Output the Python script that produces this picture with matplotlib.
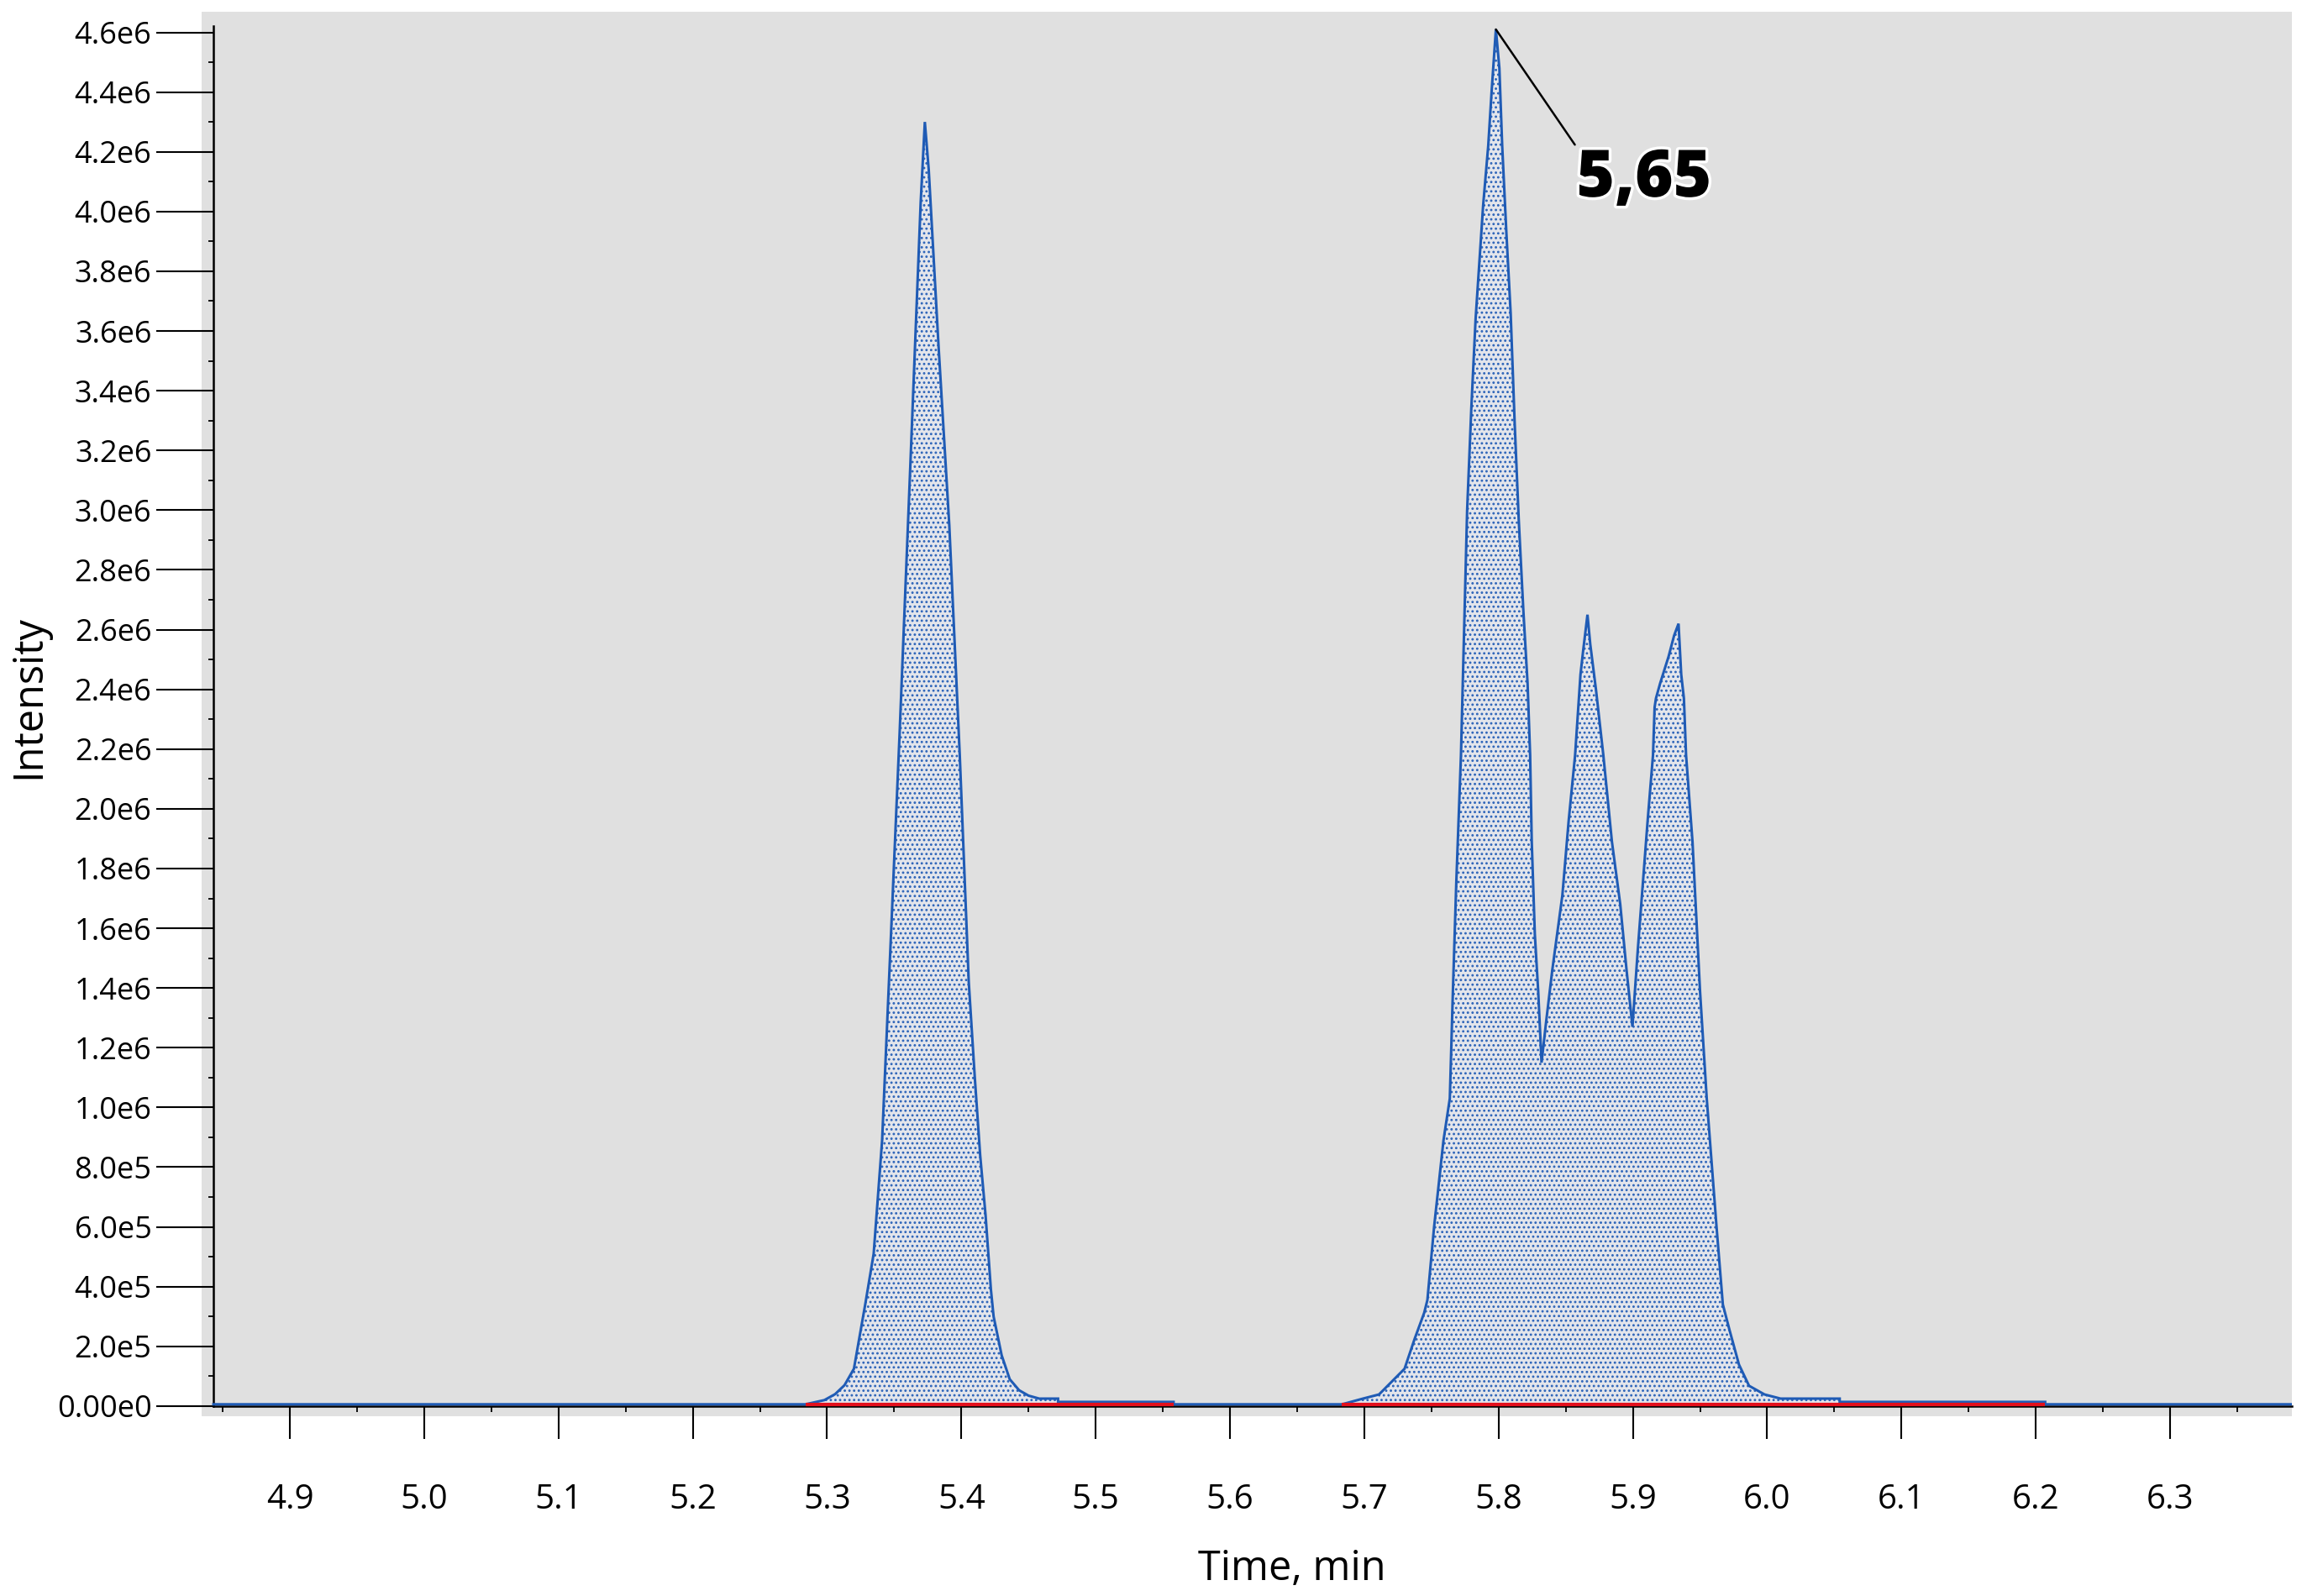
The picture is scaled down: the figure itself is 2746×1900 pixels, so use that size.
import matplotlib
matplotlib.use('Agg')
import matplotlib.pyplot as plt
import matplotlib.patheffects as pe
import numpy as np
from matplotlib.ticker import FixedLocator, MultipleLocator

plt.rcParams['font.family'] = ['Open Sans', 'DejaVu Sans']
plt.rcParams['hatch.color'] = '#2a62b8'
plt.rcParams['hatch.linewidth'] = 1.25

# ---------------- data ----------------
time_min = [
    4.8431, 5.284, 5.298, 5.306, 5.313, 5.320, 5.3284, 5.3347, 5.341, 5.348,
    5.354, 5.362, 5.3697, 5.3728, 5.3757, 5.383, 5.391, 5.3988, 5.4055, 5.410,
    5.414, 5.418, 5.422, 5.424, 5.430, 5.436, 5.443, 5.450, 5.458, 5.472,
    5.472, 5.558, 5.558,
    5.6835, 5.699, 5.711, 5.7205, 5.730, 5.7375, 5.7446, 5.747, 5.752, 5.759,
    5.7637, 5.766, 5.7685, 5.772, 5.7766, 5.7797, 5.7829, 5.7885, 5.7923, 5.7948,
    5.798, 5.8006, 5.8027, 5.8058, 5.809, 5.812, 5.815, 5.8185, 5.8216, 5.8235,
    5.8247, 5.827, 5.8295, 5.832, 5.8355, 5.840, 5.8475, 5.8522, 5.857, 5.861,
    5.863, 5.8662, 5.8683, 5.8725, 5.878, 5.8844, 5.8906, 5.8953, 5.8997, 5.9037,
    5.911, 5.915, 5.9162, 5.9172, 5.9203, 5.9266, 5.9307, 5.934, 5.936, 5.938,
    5.9396, 5.9444, 5.950, 5.955, 5.9623, 5.967, 5.972, 5.979, 5.9865, 5.998,
    6.010, 6.054, 6.054, 6.207, 6.207, 6.3907,
]
intensity = [
    6e3, 6e3, 2.0e4, 4.0e4, 7.0e4, 1.25e5, 3.4e5, 5.1e5, 8.9e5, 1.62e6,
    2.25e6, 3.15e6, 4.03e6, 4.30e6, 4.14e6, 3.55e6, 2.95e6, 2.18e6, 1.42e6, 1.10e6,
    8.4e5, 6.4e5, 3.9e5, 3.0e5, 1.7e5, 9.0e4, 5.3e4, 3.5e4, 2.5e4, 2.5e4,
    1.4e4, 1.4e4, 6e3,
    6e3, 2.5e4, 3.9e4, 8.2e4, 1.25e5, 2.25e5, 3.12e5, 3.55e5, 6.0e5, 8.9e5,
    1.03e6, 1.39e6, 1.75e6, 2.18e6, 3.0e6, 3.34e6, 3.64e6, 4.02e6, 4.22e6, 4.40e6,
    4.61e6, 4.48e6, 4.22e6, 3.93e6, 3.66e6, 3.29e6, 2.97e6, 2.66e6, 2.42e6, 2.18e6,
    1.89e6, 1.58e6, 1.39e6, 1.15e6, 1.29e6, 1.46e6, 1.71e6, 1.96e6, 2.18e6, 2.45e6,
    2.53e6, 2.65e6, 2.55e6, 2.40e6, 2.18e6, 1.89e6, 1.68e6, 1.46e6, 1.27e6, 1.53e6,
    1.96e6, 2.18e6, 2.34e6, 2.37e6, 2.42e6, 2.51e6, 2.58e6, 2.62e6, 2.45e6, 2.37e6,
    2.18e6, 1.89e6, 1.39e6, 1.03e6, 6.0e5, 3.4e5, 2.54e5, 1.39e5, 6.8e4, 3.9e4,
    2.5e4, 2.5e4, 1.4e4, 1.4e4, 6e3, 6e3,
]
baseline_level = 6e3
peak_windows = [(5.284, 5.558), (5.6835, 6.207)]
apex_time = 5.798
apex_intensity = 4.61e6
apex_label = '5,65'

x_ticks = [4.9, 5.0, 5.1, 5.2, 5.3, 5.4, 5.5, 5.6, 5.7, 5.8, 5.9, 6.0, 6.1, 6.2, 6.3]
x_tick_labels = ['4.9', '5.0', '5.1', '5.2', '5.3', '5.4', '5.5', '5.6', '5.7',
                 '5.8', '5.9', '6.0', '6.1', '6.2', '6.3']
y_ticks = [0, 2e5, 4e5, 6e5, 8e5, 1.0e6, 1.2e6, 1.4e6, 1.6e6, 1.8e6, 2.0e6, 2.2e6,
           2.4e6, 2.6e6, 2.8e6, 3.0e6, 3.2e6, 3.4e6, 3.6e6, 3.8e6, 4.0e6, 4.2e6,
           4.4e6, 4.6e6]
y_tick_labels = ['0.00e0', '2.0e5', '4.0e5', '6.0e5', '8.0e5', '1.0e6', '1.2e6',
                 '1.4e6', '1.6e6', '1.8e6', '2.0e6', '2.2e6', '2.4e6', '2.6e6',
                 '2.8e6', '3.0e6', '3.2e6', '3.4e6', '3.6e6', '3.8e6', '4.0e6',
                 '4.2e6', '4.4e6', '4.6e6']

# ---------------- figure ----------------
W, H = 2746, 1900
fig = plt.figure(figsize=(W / 100, H / 100), dpi=100, facecolor='white')
ax = fig.add_axes([240 / W, 1 - 1686 / H, 2488 / W, 1672 / H])
ax.set_facecolor('#e0e0e0')

t = np.array(time_min)
y = np.array(intensity)

for (t0, t1) in peak_windows:
    m = (t >= t0 - 1e-9) & (t <= t1 + 1e-9)
    ax.fill_between(t[m], baseline_level, y[m], facecolor='#e3e5eb',
                    edgecolor='#2a62b8', linewidth=0, hatch='...', zorder=2)

ax.plot(t, y, color='#1f5bb5', lw=2.2, zorder=3, solid_joinstyle='miter')

for (t0, t1) in peak_windows:
    ax.hlines(baseline_level, t0, t1, color='#e3101c', lw=3.0, zorder=4)

ax.annotate(apex_label, xy=(apex_time, apex_intensity), xytext=(5.858, 4.05e6),
            textcoords='data', ha='left', va='baseline', fontsize=56,
            fontweight=800, color='black', fontfamily=['Open Sans', 'DejaVu Sans'],
            path_effects=[pe.withStroke(linewidth=5, foreground='white')],
            arrowprops=dict(arrowstyle='-', color='black', lw=1.8,
                            relpos=(0, 1), shrinkA=0, shrinkB=0),
            zorder=6)

ax.set_xlim(4.8343, 6.3907)
ax.set_ylim(-3.4e4, 4.669e6)

for s in ['top', 'right']:
    ax.spines[s].set_visible(False)
ax.spines['left'].set_position(('data', 4.8431))
ax.spines['left'].set_bounds(0, 4.62e6)
ax.spines['left'].set_linewidth(1.8)
ax.spines['bottom'].set_position(('data', 0))
ax.spines['bottom'].set_bounds(4.8431, 6.3907)
ax.spines['bottom'].set_linewidth(1.8)

ax.xaxis.set_major_locator(FixedLocator(x_ticks))
ax.set_xticklabels(x_tick_labels)
ax.xaxis.set_minor_locator(MultipleLocator(0.05))
ax.yaxis.set_major_locator(FixedLocator(y_ticks))
ax.set_yticklabels(y_tick_labels)
ax.yaxis.set_minor_locator(MultipleLocator(1e5))

ax.tick_params(axis='y', which='major', length=49, width=1.5, direction='out',
               pad=4, labelsize=26, colors='black')
ax.tick_params(axis='y', which='minor', length=4, width=1.3, direction='out')
ax.tick_params(axis='x', which='major', length=28, width=1.5, direction='out',
               pad=38, labelsize=29, colors='black')
ax.tick_params(axis='x', which='minor', length=5, width=1.3, direction='out')

ax.set_xlabel('Time, min', fontsize=35, va='center', ha='center')
ax.xaxis.set_label_coords(0.5217, -0.109)
ax.set_ylabel('Intensity', fontsize=35, va='center', ha='center')
ax.yaxis.set_label_coords(-0.0824, 0.512)

fig.savefig('out.png', dpi=100, facecolor='white')
